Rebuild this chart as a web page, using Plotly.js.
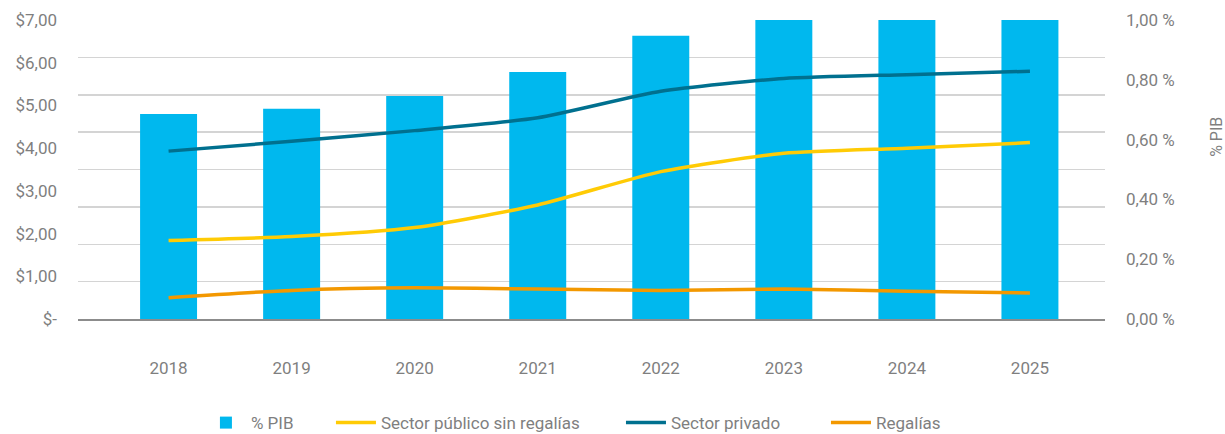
<!DOCTYPE html>
<html>
<head>
<meta charset="utf-8">
<script src="https://cdn.plot.ly/plotly-3.0.1.min.js"></script>
<style>html,body{margin:0;padding:0;background:#fff;}#chart{width:1225px;height:434px;}</style>
</head>
<body>
<div id="chart"></div>
<script>
// Categories
var years = ['2018', '2019', '2020', '2021', '2022', '2023', '2024', '2025'];
// % PIB (right axis, bars) – 2023-2025 exceed the axis top and are clipped
var pctPIB = [0.686, 0.703, 0.746, 0.826, 0.947, 1.05, 1.10, 1.15];
// USD (left axis, lines)
var sectorPublicoSinRegalias = [1.84, 1.93, 2.14, 2.67, 3.45, 3.88, 4.00, 4.13];
var sectorPrivado = [3.93, 4.16, 4.41, 4.71, 5.33, 5.63, 5.72, 5.80];
var regalias = [0.50, 0.67, 0.73, 0.70, 0.67, 0.70, 0.65, 0.61];
// Tick labels
var leftTickVals = [0, 1, 2, 3, 4, 5, 6, 7];
var leftTickText = ['$-', '$1,00', '$2,00', '$3,00', '$4,00', '$5,00', '$6,00', '$7,00'];
var rightTickVals = [0, 0.2, 0.4, 0.6, 0.8, 1.0];
var rightTickText = ['0,00 %', '0,20 %', '0,40 %', '0,60 %', '0,80 %', '1,00 %'];

var FONT = 'Roboto, "DejaVu Sans", sans-serif';
var GREY = '#7f7f7f';

var traces = [
  {type: 'bar', name: '% PIB', x: years, y: pctPIB, yaxis: 'y', legend: 'legend',
   marker: {color: '#00B8EE'}, hoverinfo: 'skip'},
  {type: 'scatter', mode: 'lines', name: 'Sector público sin regalías', x: years, y: sectorPublicoSinRegalias, yaxis: 'y2', legend: 'legend2',
   line: {color: '#FFCB05', width: 3.5, shape: 'spline', smoothing: 0.6}},
  {type: 'scatter', mode: 'lines', name: 'Sector privado', x: years, y: sectorPrivado, yaxis: 'y2', legend: 'legend3',
   line: {color: '#00708F', width: 3.5, shape: 'spline', smoothing: 0.6}},
  {type: 'scatter', mode: 'lines', name: 'Regalías', x: years, y: regalias, yaxis: 'y2', legend: 'legend4',
   line: {color: '#F39800', width: 3.5, shape: 'spline', smoothing: 0.6}},
  {type: 'scatter', mode: 'lines', x: [], y: [], yaxis: 'y3', showlegend: false, hoverinfo: 'skip'}
];

function leg(x) {
  return {orientation: 'h', x: x, xanchor: 'left', y: -0.348, yanchor: 'middle',
          bgcolor: 'rgba(0,0,0,0)', font: {family: FONT, size: 17, color: GREY}, itemwidth: 40};
}

var layout = {
  width: 1225, height: 434,
  margin: {l: 78, r: 120, t: 20, b: 115, autoexpand: false},
  paper_bgcolor: '#ffffff', plot_bgcolor: '#ffffff',
  font: {family: FONT, size: 16, color: GREY},
  bargap: 0.537,
  showlegend: true,
  legend: leg(0.1197),
  legend2: leg(0.2463),
  legend3: leg(0.5287),
  legend4: leg(0.7283),
  xaxis: {type: 'category', range: [-0.736, 7.61], showgrid: false, zeroline: false,
          showline: true, linecolor: '#8c8c8c', linewidth: 2, ticks: '',
          ticklabelstandoff: 33, tickfont: {family: FONT, size: 17, color: GREY}},
  yaxis: {side: 'right', range: [0, 1], tickvals: rightTickVals, ticktext: rightTickText,
          showgrid: false, zeroline: false, showline: false, ticks: '', ticklabelstandoff: 20,
          tickfont: {family: FONT, size: 17, color: GREY}},
  yaxis2: {overlaying: 'y', side: 'left', range: [0, 7], tickvals: leftTickVals, ticktext: leftTickText,
           showgrid: false, zeroline: false, showline: false, ticks: '', ticklabelstandoff: 20,
           tickfont: {family: FONT, size: 17, color: GREY}},
  yaxis3: {overlaying: 'y', side: 'left', range: [0, 8], dtick: 1, showticklabels: false,
           showgrid: true, gridcolor: '#d4d4d4', gridwidth: 1.5, zeroline: false, showline: false, ticks: ''},
  annotations: [
    {text: '% PIB', xref: 'paper', yref: 'paper', x: 1.109, y: 0.609, textangle: -90,
     showarrow: false, xanchor: 'center', yanchor: 'middle', font: {family: FONT, size: 16, color: GREY}}
  ]
};

Plotly.newPlot('chart', traces, layout, {displayModeBar: false, staticPlot: true});
</script>
</body>
</html>
